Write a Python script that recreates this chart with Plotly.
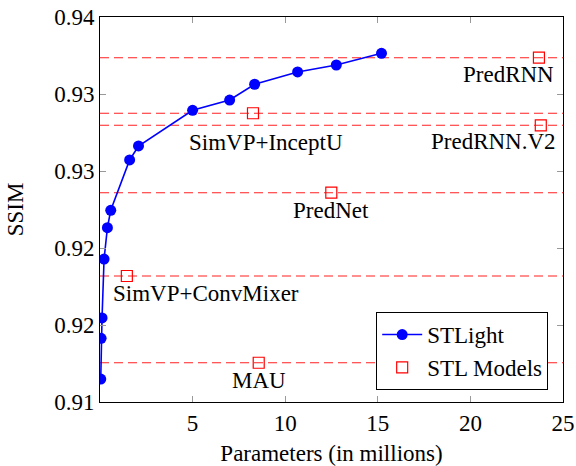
import plotly.graph_objects as go

# STLight series
stlight_params = [0.04, 0.06, 0.11, 0.22, 0.40, 0.58, 1.60, 2.08, 5.0, 7.0, 8.35, 10.67, 12.76, 15.2]
stlight_ssim = [0.91179, 0.91496, 0.91655, 0.92114, 0.92358, 0.92494, 0.92886, 0.92995,
                0.93273, 0.93353, 0.93476, 0.93572, 0.93626, 0.93717]

# STL models
stl_names = ["PredRNN", "SimVP+InceptU", "PredRNN.V2", "PredNet", "SimVP+ConvMixer", "MAU"]
stl_params = [23.7, 8.26, 23.8, 12.49, 1.45, 8.57]
stl_ssim = [0.93683, 0.9325, 0.93156, 0.92631, 0.91982, 0.91306]

# axis ticks
y_tickvals = [0.91, 0.916, 0.922, 0.928, 0.934, 0.94]
y_ticktext = ["0.91", "0.92", "0.92", "0.93", "0.93", "0.94"]
x_tickvals = [5, 10, 15, 20, 25]
x_ticktext = ["5", "10", "15", "20", "25"]

FONT = "Liberation Serif, Times New Roman, serif"
FS = 23

fig = go.Figure()

# dashed reference lines for each STL model
for v in stl_ssim:
    fig.add_shape(type="line", xref="paper", x0=0, x1=1, yref="y", y0=v, y1=v,
                  line=dict(color="#ff2020", width=1.1, dash="9px,5px"), layer="below")

fig.add_trace(go.Scatter(
    x=stlight_params, y=stlight_ssim, mode="lines+markers", name="STLight",
    line=dict(color="blue", width=1.6),
    marker=dict(color="blue", size=11, symbol="circle"),
))
fig.add_trace(go.Scatter(
    x=stl_params, y=stl_ssim, mode="markers", name="STL Models",
    marker=dict(symbol="square-open", size=11, color="red", line=dict(width=1.2, color="red")),
))

# label placement styling (offsets in px)
label_style = {
    "PredRNN": dict(xanchor="right", xshift=17, yshift=-17),
    "SimVP+InceptU": dict(xanchor="center", xshift=13, yshift=-29),
    "PredRNN.V2": dict(xanchor="right", xshift=17, yshift=-16),
    "PredNet": dict(xanchor="center", xshift=0, yshift=-18),
    "SimVP+ConvMixer": dict(xanchor="left", xshift=-16, yshift=-18),
    "MAU": dict(xanchor="center", xshift=0, yshift=-18),
}
for name, xv, yv in zip(stl_names, stl_params, stl_ssim):
    st = label_style[name]
    fig.add_annotation(x=xv, y=yv, text=name, showarrow=False, yanchor="middle",
                       font=dict(family=FONT, size=FS, color="black"), **st)

fig.update_layout(
    width=576, height=466,
    margin=dict(l=100, r=13, t=17, b=64),
    paper_bgcolor="white", plot_bgcolor="white",
    font=dict(family=FONT, size=FS, color="black"),
    showlegend=True,
    legend=dict(x=0.968, y=0.031, xanchor="right", yanchor="bottom",
                bgcolor="white", bordercolor="black", borderwidth=1,
                font=dict(family=FONT, size=FS), itemwidth=40,
                tracegroupgap=0),
)
fig.update_xaxes(
    range=[0.0, 25], tickvals=x_tickvals, ticktext=x_ticktext, automargin=False,
    showgrid=False, zeroline=False, showline=True, linecolor="black", linewidth=1,
    mirror="allticks", ticks="inside", ticklen=6, tickcolor="#999",
    title=dict(text="Parameters (in millions)", font=dict(family=FONT, size=FS), standoff=15),
    tickfont=dict(family=FONT, size=FS),
)
fig.update_yaxes(
    range=[0.91, 0.94], tickvals=y_tickvals, ticktext=y_ticktext, automargin=False,
    showgrid=False, zeroline=False, showline=True, linecolor="black", linewidth=1,
    mirror="allticks", ticks="inside", ticklen=6, tickcolor="#999",
    title=dict(text="SSIM", font=dict(family=FONT, size=FS), standoff=24),
    tickfont=dict(family=FONT, size=FS),
)

fig.write_html("out.html", config={"displayModeBar": False},
               post_script="document.body.style.margin='0';document.body.style.overflow='hidden';")
